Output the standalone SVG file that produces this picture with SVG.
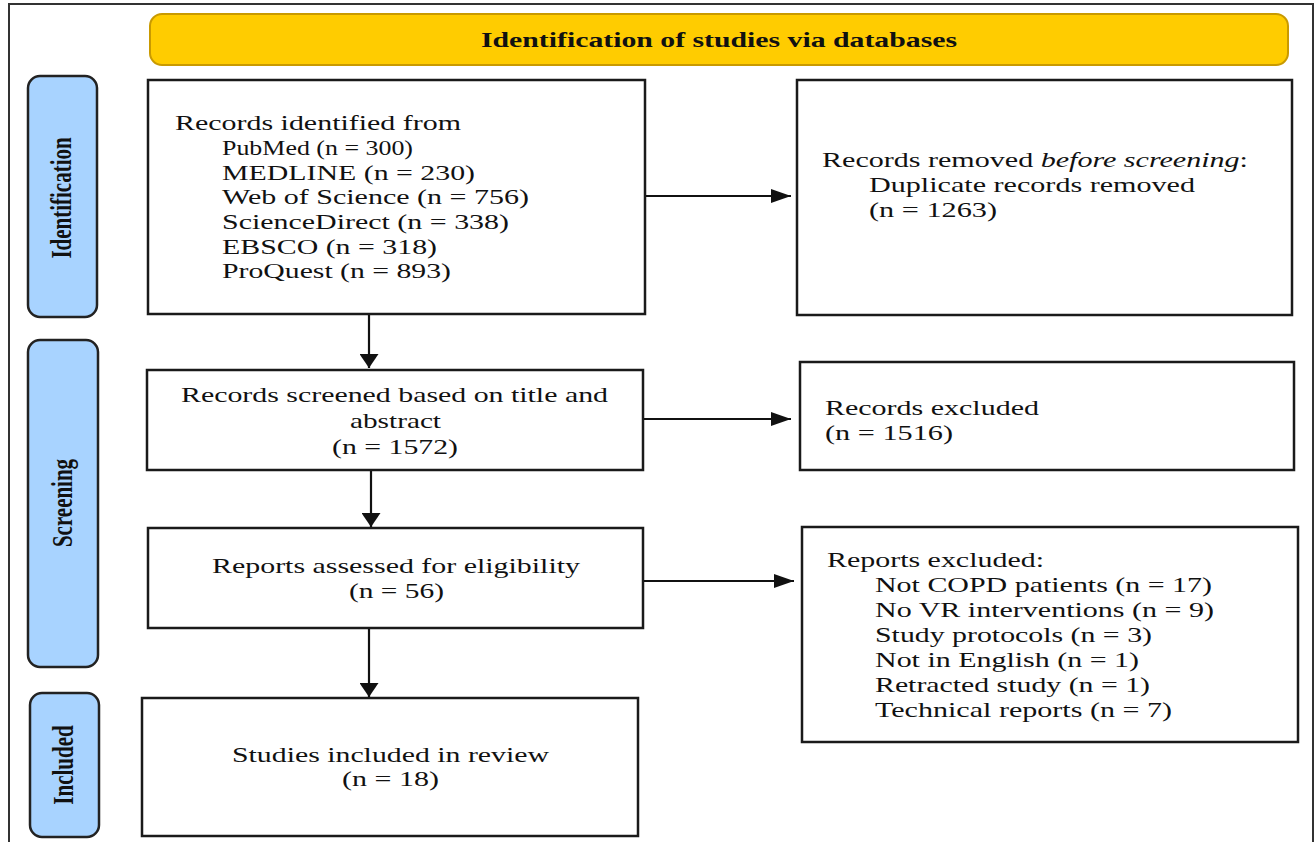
<svg xmlns="http://www.w3.org/2000/svg" width="1316" height="842" viewBox="0 0 1316 842">
<style>
.box{fill:#fff;stroke:#1a1a1a;stroke-width:2.5}
.side{fill:#a8d3ff;stroke:#222;stroke-width:2.5}
.t{font-family:"Liberation Serif","Times New Roman",serif;font-size:21px;fill:#111}
.tl{font-size:22px}
.sl{font-family:"Liberation Serif","Times New Roman",serif;font-size:21px;font-weight:bold;fill:#111}
.c{stroke:#111;stroke-width:2.2;fill:none}
</style>
<defs>
<marker id="ah" markerUnits="userSpaceOnUse" markerWidth="20" markerHeight="14" refX="20" refY="7" orient="auto"><path d="M0,0 L20,7 L0,14 z" fill="#111"/></marker>
<marker id="av" markerUnits="userSpaceOnUse" markerWidth="14" markerHeight="19" refX="14" refY="9.5" orient="auto"><path d="M0,0 L14,9.5 L0,19 z" fill="#111"/></marker>
</defs>
<rect x="0" y="0" width="1316" height="842" fill="#fff"/>
<rect x="9" y="4" width="1304" height="860" fill="none" stroke="#333" stroke-width="2"/>

<g id="header">
<rect x="150" y="14" width="1138" height="51" rx="12" fill="#ffcc00" stroke="#c99a00" stroke-width="2"/>
<text class="sl" x="481" y="47" font-size="20" textLength="476" lengthAdjust="spacingAndGlyphs">Identification of studies via databases</text>
</g>

<g id="side-identification">
<rect class="side" x="28" y="76" width="69" height="241" rx="12"/>
<text class="sl" text-anchor="middle" transform="translate(71,198) scale(1.4,1) rotate(-90)">Identification</text>
</g>
<g id="side-screening">
<rect class="side" x="28" y="340" width="70" height="327" rx="12"/>
<text class="sl" text-anchor="middle" transform="translate(72,503) scale(1.4,1) rotate(-90)">Screening</text>
</g>
<g id="side-included">
<rect class="side" x="30" y="693" width="69" height="144" rx="12"/>
<text class="sl" text-anchor="middle" transform="translate(73,765) scale(1.4,1) rotate(-90)">Included</text>
</g>

<g id="records-identified">
<rect class="box" x="148" y="80" width="497" height="234"/>
<text class="t tl" x="175" y="130" textLength="286" lengthAdjust="spacingAndGlyphs">Records identified from</text>
<text class="t tl" x="222" y="155" textLength="191" lengthAdjust="spacingAndGlyphs">PubMed (n = 300)</text>
<text class="t tl" x="222" y="180" textLength="253" lengthAdjust="spacingAndGlyphs">MEDLINE (n = 230)</text>
<text class="t tl" x="222" y="204" textLength="307" lengthAdjust="spacingAndGlyphs">Web of Science (n = 756)</text>
<text class="t tl" x="222" y="229" textLength="287" lengthAdjust="spacingAndGlyphs">ScienceDirect (n = 338)</text>
<text class="t tl" x="222" y="254" textLength="215" lengthAdjust="spacingAndGlyphs">EBSCO (n = 318)</text>
<text class="t tl" x="222" y="278" textLength="229" lengthAdjust="spacingAndGlyphs">ProQuest (n = 893)</text>
</g>

<g id="records-removed">
<rect class="box" x="797" y="80" width="495" height="235"/>
<text class="t" x="822" y="167" textLength="426" lengthAdjust="spacingAndGlyphs">Records removed <tspan font-style="italic">before screening</tspan>:</text>
<text class="t" x="869" y="192" textLength="326" lengthAdjust="spacingAndGlyphs">Duplicate records removed</text>
<text class="t" x="869" y="217" textLength="128" lengthAdjust="spacingAndGlyphs">(n = 1263)</text>
</g>

<g id="records-screened">
<rect class="box" x="147" y="370" width="496" height="100"/>
<text class="t tl" x="181" y="402" textLength="427" lengthAdjust="spacingAndGlyphs">Records screened based on title and</text>
<text class="t tl" x="350" y="428" textLength="91" lengthAdjust="spacingAndGlyphs">abstract</text>
<text class="t tl" x="332" y="454" textLength="126" lengthAdjust="spacingAndGlyphs">(n = 1572)</text>
</g>

<g id="records-excluded">
<rect class="box" x="800" y="362" width="494" height="108"/>
<text class="t" x="825" y="415" textLength="214" lengthAdjust="spacingAndGlyphs">Records excluded</text>
<text class="t" x="825" y="440" textLength="128" lengthAdjust="spacingAndGlyphs">(n = 1516)</text>
</g>

<g id="reports-assessed">
<rect class="box" x="148" y="528" width="495" height="100"/>
<text class="t tl" x="212" y="573" textLength="368" lengthAdjust="spacingAndGlyphs">Reports assessed for eligibility</text>
<text class="t tl" x="349" y="598" textLength="95" lengthAdjust="spacingAndGlyphs">(n = 56)</text>
</g>

<g id="reports-excluded">
<rect class="box" x="802" y="527" width="496" height="215"/>
<text class="t" x="827" y="567" textLength="217" lengthAdjust="spacingAndGlyphs">Reports excluded:</text>
<text class="t" x="875" y="592" textLength="337" lengthAdjust="spacingAndGlyphs">Not COPD patients (n = 17)</text>
<text class="t" x="875" y="617" textLength="339" lengthAdjust="spacingAndGlyphs">No VR interventions (n = 9)</text>
<text class="t" x="875" y="642" textLength="277" lengthAdjust="spacingAndGlyphs">Study protocols (n = 3)</text>
<text class="t" x="875" y="667" textLength="264" lengthAdjust="spacingAndGlyphs">Not in English (n = 1)</text>
<text class="t" x="875" y="692" textLength="275" lengthAdjust="spacingAndGlyphs">Retracted study (n = 1)</text>
<text class="t" x="875" y="717" textLength="297" lengthAdjust="spacingAndGlyphs">Technical reports (n = 7)</text>
</g>

<g id="studies-included">
<rect class="box" x="142" y="698" width="496" height="138"/>
<text class="t tl" x="232" y="762" textLength="317" lengthAdjust="spacingAndGlyphs">Studies included in review</text>
<text class="t tl" x="342" y="786" textLength="97" lengthAdjust="spacingAndGlyphs">(n = 18)</text>
</g>

<g id="connectors">
<line class="c" x1="369" y1="315" x2="369" y2="368" marker-end="url(#av)"/>
<line class="c" x1="371" y1="471" x2="371" y2="527" marker-end="url(#av)"/>
<line class="c" x1="369" y1="629" x2="369" y2="697" marker-end="url(#av)"/>
<line class="c" x1="646" y1="196" x2="791" y2="196" marker-end="url(#ah)"/>
<line class="c" x1="644" y1="419" x2="791" y2="419" marker-end="url(#ah)"/>
<line class="c" x1="644" y1="581" x2="794" y2="581" marker-end="url(#ah)"/>
</g>
</svg>
